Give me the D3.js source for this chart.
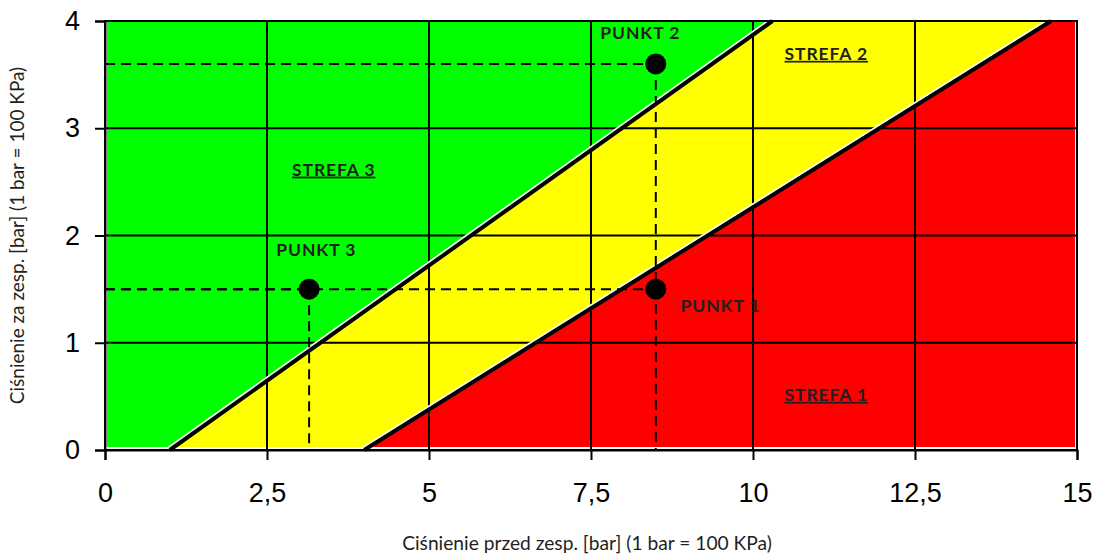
<!DOCTYPE html>
<html><head><meta charset="utf-8">
<script src="https://cdn.jsdelivr.net/npm/d3@7"></script>
<style>body{margin:0;background:#fff}svg{display:block}</style>
</head><body><svg id="c" width="1095" height="554"></svg>
<script>
const xTicks = [0, 2.5, 5, 7.5, 10, 12.5, 15];
const yTicks = [0, 1, 2, 3, 4];
const xTickLabels = ["0", "2,5", "5", "7,5", "10", "12,5", "15"];
const boundary1 = [[1, 0], [10.3, 4]];     // green / yellow
const boundary2 = [[4, 0], [14.6, 4]];     // yellow / red
const pointNames = ["PUNKT 1", "PUNKT 2", "PUNKT 3"];
const pointX = [8.5, 8.5, 3.15];
const pointY = [1.5, 3.6, 1.5];
const zoneNames = ["STREFA 1", "STREFA 2", "STREFA 3"];
const zoneX = [11.13, 11.13, 3.53];
const zoneY = [0.5, 3.68, 2.6];
const pointLabelX = [9.5, 8.26, 3.26];
const pointLabelY = [1.33, 3.87, 1.85];

const W = 1095, H = 554, m = {l: 105, r: 18, t: 21, b: 104};
const svg = d3.select("#c");
const x = d3.scaleLinear().domain([0, 15]).range([m.l, W - m.r]);
const y = d3.scaleLinear().domain([0, 4]).range([H - m.b, m.t]);

const g = svg.append("g");
// zone fills
const inset = 2;
g.append("rect").attr("x", x(0) + inset).attr("y", y(4)).attr("width", x(15) - x(0) - 2 * inset)
  .attr("height", y(0) - y(4) - 3).attr("fill", "#00ff00");
const poly = pts => pts.map(p => [x(p[0]), y(p[1])].join(",")).join(" ");
g.append("polygon").attr("points", poly([boundary1[0], boundary1[1], boundary2[1], boundary2[0]]))
  .attr("fill", "#ffff00");
g.append("polygon").attr("points", poly([boundary2[0], boundary2[1], [15, 4], [15, 0]]))
  .attr("fill", "#ff0000");
// white strips at bottom/right
g.append("rect").attr("x", x(0)).attr("y", y(0) - 3).attr("width", x(15) - x(0)).attr("height", 3).attr("fill", "#fff");
g.append("rect").attr("x", x(15) - inset).attr("y", y(4)).attr("width", inset).attr("height", y(0) - y(4)).attr("fill", "#fff");

// gridlines
xTicks.slice(1, -1).forEach(v => g.append("line").attr("x1", x(v)).attr("x2", x(v)).attr("y1", y(4)).attr("y2", y(0))
  .attr("stroke", "#000").attr("stroke-width", 2));
yTicks.slice(1, -1).forEach(v => g.append("line").attr("x1", x(0)).attr("x2", x(15)).attr("y1", y(v)).attr("y2", y(v))
  .attr("stroke", "#000").attr("stroke-width", 2));

// boundary lines
[boundary1, boundary2].forEach(b => {
  g.append("line").attr("x1", x(b[0][0]) - 1).attr("y1", y(b[0][1]) - 2).attr("x2", x(b[1][0]) - 1).attr("y2", y(b[1][1]) - 2)
    .attr("stroke", "#fff").attr("stroke-width", 3);
  g.append("line").attr("x1", x(b[0][0])).attr("y1", y(b[0][1])).attr("x2", x(b[1][0])).attr("y2", y(b[1][1]))
    .attr("stroke", "#000").attr("stroke-width", 4);
});

// dashed guides
pointX.forEach((px, i) => {
  if (i !== 0) {
    g.append("line").attr("x1", x(px)).attr("x2", x(px)).attr("y1", y(pointY[i])).attr("y2", y(0))
      .attr("stroke", "#000").attr("stroke-width", 2).attr("stroke-dasharray", "10,6");
  }
  g.append("line").attr("x1", x(0)).attr("x2", x(px)).attr("y1", y(pointY[i])).attr("y2", y(pointY[i]))
    .attr("stroke", "#000").attr("stroke-width", 2).attr("stroke-dasharray", "10,6");
});

// frame
g.append("rect").attr("x", x(0)).attr("y", y(4)).attr("width", x(15) - x(0)).attr("height", y(0) - y(4))
  .attr("fill", "none").attr("stroke", "#000").attr("stroke-width", 2);

// axes
const xa = svg.append("g").attr("transform", `translate(0,${y(0)})`)
  .call(d3.axisBottom(x).tickValues(xTicks).tickFormat((d, i) => xTickLabels[i]).tickSize(10).tickPadding(23));
const ya = svg.append("g").attr("transform", `translate(${x(0)},0)`)
  .call(d3.axisLeft(y).tickValues(yTicks).tickFormat(d3.format("d")).tickSize(10).tickPadding(15));
[xa, ya].forEach(a => {
  a.select(".domain").attr("stroke", "#000").attr("stroke-width", 2);
  a.selectAll(".tick line").attr("stroke", "#000").attr("stroke-width", 2);
  a.selectAll(".tick text").attr("font-family", "Liberation Sans, Arial, sans-serif").attr("font-size", 27).attr("fill", "#000");
});

// points
const lblFont = sel => sel.attr("text-anchor", "middle").attr("dominant-baseline", "middle")
  .attr("font-family", "Lato, sans-serif").attr("font-weight", "bold").attr("font-size", 17.5)
  .attr("letter-spacing", 0.9).attr("fill", "#231f20");
pointX.forEach((px, i) => {
  svg.append("circle").attr("cx", x(px)).attr("cy", y(pointY[i])).attr("r", 10.5).attr("fill", "#000");
  svg.append("text").attr("x", x(pointLabelX[i])).attr("y", y(pointLabelY[i])).call(lblFont).text(pointNames[i]);
});
zoneNames.forEach((n, i) => {
  svg.append("text").attr("x", x(zoneX[i])).attr("y", y(zoneY[i])).call(lblFont)
    .attr("text-decoration", "underline").text(n);
});

// axis titles
svg.append("text").attr("x", 587).attr("y", 550).attr("text-anchor", "middle")
  .attr("font-family", "Lato, sans-serif").attr("font-size", 19.2).attr("fill", "#231f20")
  .text("Ciśnienie przed zesp. [bar] (1 bar = 100 KPa)");
svg.append("text").attr("transform", `translate(24,${(y(0) + y(4)) / 2}) rotate(-90)`).attr("text-anchor", "middle")
  .attr("font-family", "Lato, sans-serif").attr("font-size", 19).attr("fill", "#231f20")
  .text("Ciśnienie za zesp. [bar] (1 bar = 100 KPa)");
</script></body></html>
